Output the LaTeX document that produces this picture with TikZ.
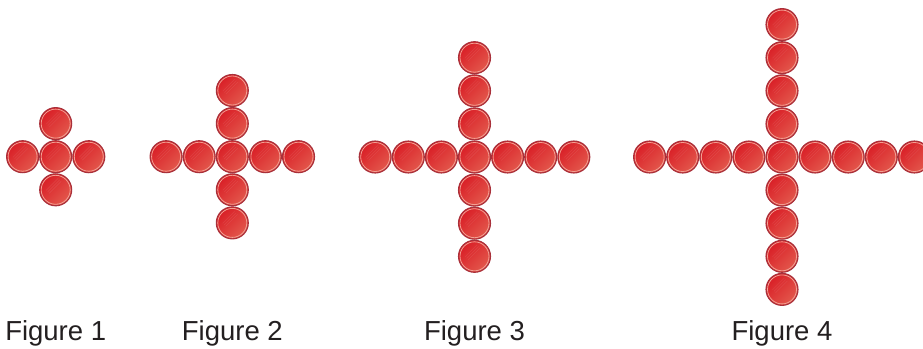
\documentclass[tikz,border=0pt]{standalone}
\usepackage{fontspec}
\setmainfont{Liberation Sans}
\definecolor{beaddark}{HTML}{D91E26}
\definecolor{beadlight}{HTML}{E3594D}
\definecolor{beadedge}{HTML}{A8303A}
\definecolor{beadring}{HTML}{F2A094}
\definecolor{captiontext}{HTML}{231F20}
\begin{document}
\begin{tikzpicture}[
    x=1pt, y=-1pt,
    bead/.style={circle, draw=beadedge, line width=1.1pt, minimum size=32pt, inner sep=0pt,
        top color=beaddark, bottom color=beadlight, shading angle=45,
        path picture={
            \draw[beadring, line width=0.8pt] (path picture bounding box.center) circle (14.5pt);
            \foreach \s in {-1.5,0,1.5} {
                \draw[white, opacity=0.1, line width=0.4pt]
                    ([shift={(-8pt+\s pt,-2pt-\s pt)}]path picture bounding box.center) -- ++(12pt,12pt);
            }
        }},
    caption/.style={font=\fontsize{27.5}{32}\selectfont, text=captiontext, anchor=base}
]
\useasboundingbox (0,0) rectangle (923,348);
\def\gap{33.1}

% -------------------------
% Figures 1 to 4
% -------------------------
\foreach \n/\cx/\cy/\arms in {1/55.7/156.7/1, 2/232.3/156.7/2, 3/474.5/157/3, 4/782/157/4} {
    \foreach \k in {1,...,\arms} {
        \node[bead] (f\n-l\k) at (\cx-\k*\gap,\cy) {};
        \node[bead] (f\n-r\k) at (\cx+\k*\gap,\cy) {};
        \node[bead] (f\n-u\k) at (\cx,\cy-\k*\gap) {};
        \node[bead] (f\n-d\k) at (\cx,\cy+\k*\gap) {};
    }
    \node[bead] (f\n-c) at (\cx,\cy) {};

% Caption under each figure
    \node[caption] (f\n-cap) at (\cx,340.5) {Figure \n};
}
\end{tikzpicture}
\end{document}
